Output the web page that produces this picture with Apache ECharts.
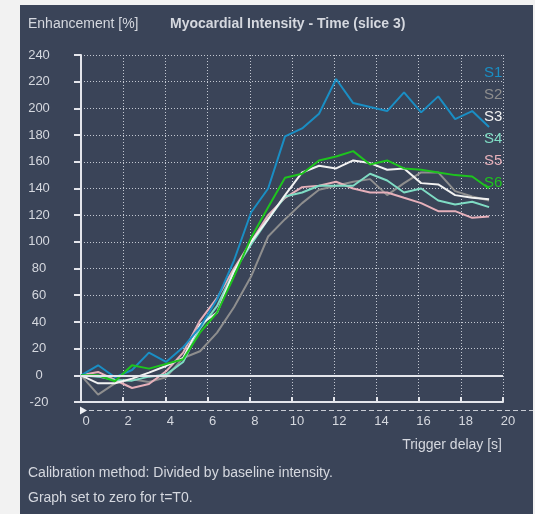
<!DOCTYPE html>
<html>
<head>
<meta charset="utf-8">
<script src="https://cdn.jsdelivr.net/npm/echarts@6/dist/echarts.min.js"></script>
<style>
  html, body { margin: 0; padding: 0; background: #f2f2f2; }
  #wrap { position: relative; width: 535px; height: 514px; }
  #panel { position: absolute; left: 20px; top: 5px; width: 513px; height: 509px; background: #3a4458; }
  #chart { position: absolute; left: 0; top: 0; width: 535px; height: 514px; }
</style>
</head>
<body>
<div id="wrap">
  <div id="panel"></div>
  <div id="chart"></div>
</div>
<script>
// trigger delay of each frame [s]
const times = [0, 0.81, 1.61, 2.42, 3.22, 4.03, 4.84, 5.64, 6.45, 7.25, 8.06, 8.87, 9.67,
  10.48, 11.28, 12.09, 12.9, 13.7, 14.51, 15.31, 16.12, 16.93, 17.73, 18.54, 19.34];

// enhancement [%] per segment
const s1 = [0, 7.5, -1.5, 4, 17, 10, 21, 36, 57, 86, 122, 140, 179, 185, 196, 222, 204, 201, 198, 212, 197, 209, 192, 198, 186];
const s2 = [0, -14.5, -6, -3, -5, -1.5, 13, 18, 32, 51, 74, 104, 117, 129, 139, 142, 145, 147, 135, 144, 152, 152, 138, 134, 131];
const s3 = [0, -6, -6, -2.5, 2, 7, 13, 38, 47, 78, 100, 117, 135, 152, 157, 155, 161, 159, 154, 155, 144, 143, 135, 133, 132];
const s4 = [0, -1, -3.5, -4, -1, 0.5, 10, 35, 52, 78, 98, 117, 134, 137, 142, 142, 142, 151, 146, 137, 140, 131, 128, 130, 126];
const s5 = [0, 2.5, -3.5, -9.5, -6.5, 3, 17, 41, 58, 80, 100, 120, 133, 141, 142, 145, 140, 137, 137, 133, 129, 123, 123, 118, 119];
const s6 = [0, 0, -4.5, 7.5, 5, 8.5, 12, 32, 47, 74, 103, 126, 148, 151, 161, 164, 168, 158, 161, 155, 154, 152, 150, 149, 140];

const names = ["S1", "S2", "S3", "S4", "S5", "S6"];
const colors = ["#1a8ec4", "#8e8e8e", "#f2f2f2", "#7fdcc4", "#e6b0ba", "#1ec41e"];
const values = [s1, s2, s3, s4, s5, s6];
// drawing order, bottom first
const drawOrder = [1, 4, 3, 2, 0, 5];

const font = "'Liberation Sans', Arial, sans-serif";
const textColor = "#d5d8df";
const gridColor = "#c3c8d2";
const axisColor = "#e4e6ec";

const chart = echarts.init(document.getElementById("chart"));

const series = drawOrder.map((k) => ({
  name: names[k],
  type: "line",
  symbol: "none",
  data: times.map((t, i) => [t, values[k][i]]),
  lineStyle: { color: colors[k], width: 2 },
  itemStyle: { color: colors[k] },
  emphasis: { disabled: true },
}));

// zero baseline
series[0].markLine = {
  silent: true,
  symbol: "none",
  label: { show: false },
  lineStyle: { color: axisColor, width: 2, type: "solid" },
  data: [{ yAxis: 0 }],
};

const option = {
  backgroundColor: "transparent",
  animation: false,
  textStyle: { fontFamily: font },
  title: [
    { text: "Enhancement [%]", left: 23, top: 12, textStyle: { color: textColor, fontSize: 14, fontWeight: "normal", fontFamily: font } },
    { text: "Myocardial Intensity - Time (slice 3)", left: 165, top: 12, textStyle: { color: textColor, fontSize: 14, fontWeight: "bold", fontFamily: font } },
    { text: "Trigger delay [s]", right: 28, top: 433, textStyle: { color: textColor, fontSize: 14, fontWeight: "normal", fontFamily: font } },
    { text: "Calibration method: Divided by baseline intensity.", left: 23, top: 461, textStyle: { color: textColor, fontSize: 14, fontWeight: "normal", fontFamily: font } },
    { text: "Graph set to zero for t=T0.", left: 23, top: 486, textStyle: { color: textColor, fontSize: 14, fontWeight: "normal", fontFamily: font } },
  ],
  legend: {
    orient: "vertical",
    left: 474,
    top: 60,
    icon: "none",
    itemWidth: 0,
    itemHeight: 14,
    itemGap: 7,
    selectedMode: false,
    textStyle: { fontSize: 15, fontFamily: font },
    data: names.map((n, k) => ({ name: n, textStyle: { color: colors[k] } })),
  },
  grid: { left: 81, top: 55, right: 32, bottom: 112 },
  xAxis: {
    type: "value",
    min: 0,
    max: 20,
    interval: 2,
    axisLine: { show: true, onZero: false, lineStyle: { color: axisColor, width: 2 } },
    axisTick: { show: true, inside: true, length: 5, lineStyle: { color: axisColor, width: 2 } },
    axisLabel: { color: textColor, fontSize: 13, margin: 13, padding: [0, 0, 0, 10], fontFamily: font },
    splitLine: { show: true, lineStyle: { color: gridColor, width: 1, type: [1, 2] } },
  },
  yAxis: {
    type: "value",
    min: -20,
    max: 240,
    interval: 20,
    axisLine: { show: true, lineStyle: { color: axisColor, width: 2 } },
    axisTick: { show: true, inside: false, length: 7, lineStyle: { color: axisColor, width: 2 } },
    axisLabel: { color: textColor, fontSize: 13, margin: 42, align: "center", padding: [0, 0, 10, 0], fontFamily: font },
    splitLine: { show: true, lineStyle: { color: gridColor, width: 1, type: [1, 2] } },
  },
  series: series,
};

chart.setOption(option);

// dashed time bar under the axis, with start marker
const p0 = chart.convertToPixel({ xAxisIndex: 0, yAxisIndex: 0 }, [0, -20]);
const barY = p0[1] + 8.5;
chart.setOption({
  graphic: [
    {
      type: "line",
      shape: { x1: p0[0], y1: barY, x2: 533, y2: barY },
      style: { stroke: "#c8ccd4", lineWidth: 1, lineDash: [5, 3] },
      silent: true,
    },
    {
      type: "polygon",
      shape: { points: [[p0[0] - 1, barY - 4], [p0[0] + 6, barY], [p0[0] - 1, barY + 4]] },
      style: { fill: "#eef0f4" },
      silent: true,
    },
  ],
});
</script>
</body>
</html>
